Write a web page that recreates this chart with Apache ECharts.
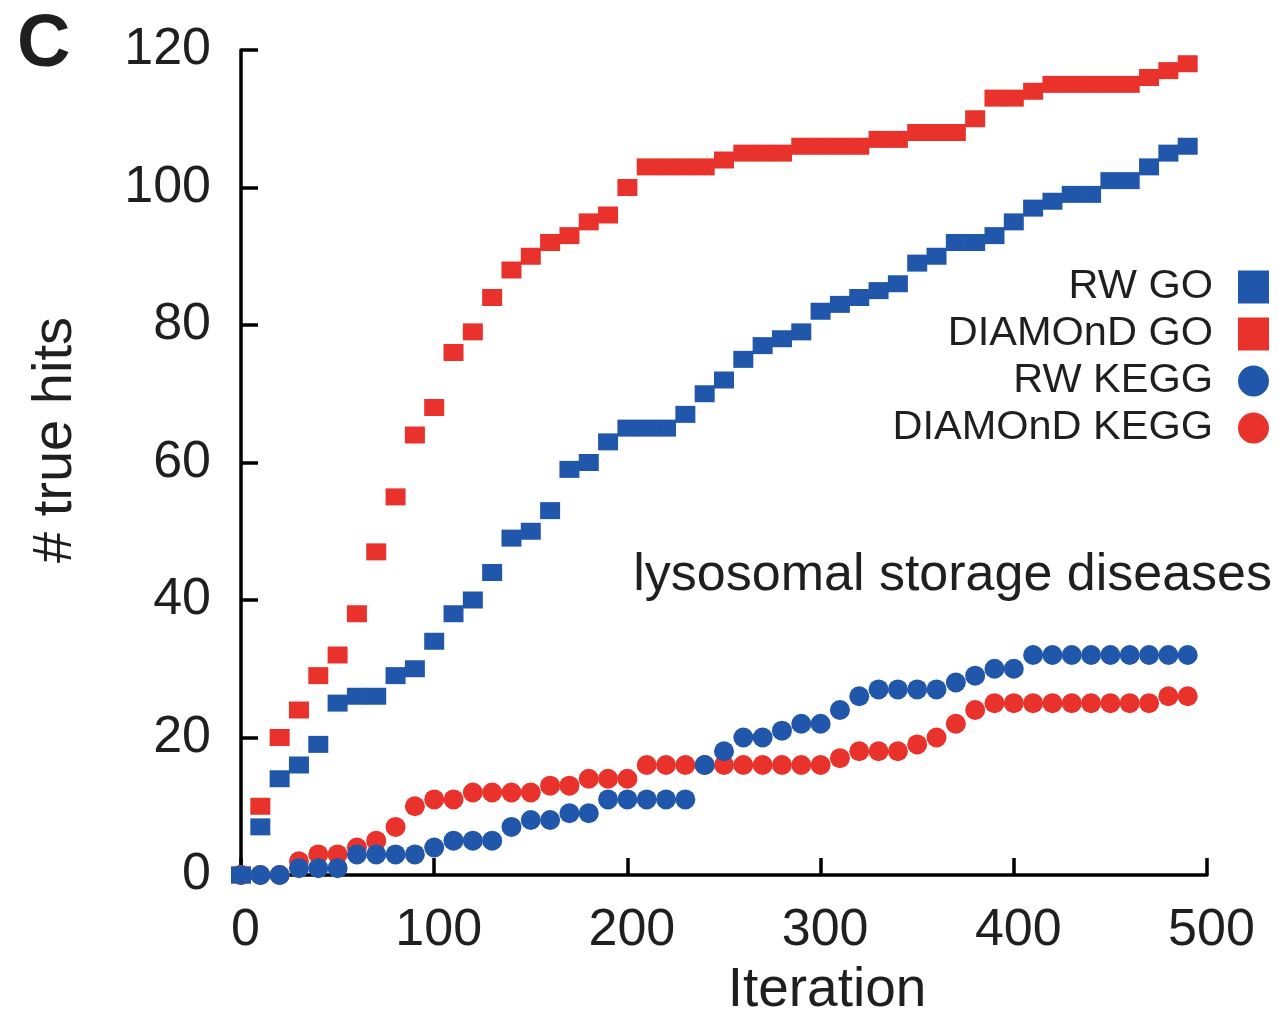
<!DOCTYPE html>
<html>
<head>
<meta charset="utf-8">
<script src="https://cdn.jsdelivr.net/npm/echarts@6/dist/echarts.min.js"></script>
<style>
  html, body { margin: 0; padding: 0; background: #ffffff; }
  #chart { width: 1278px; height: 1011px; }
</style>
</head>
<body>
<div id="chart"></div>
<script>
// Iteration at which each count was recorded
const iterations = [0, 10, 20, 30, 40, 50, 60, 70, 80, 90,
  100, 110, 120, 130, 140, 150, 160, 170, 180, 190,
  200, 210, 220, 230, 240, 250, 260, 270, 280, 290,
  300, 310, 320, 330, 340, 350, 360, 370, 380, 390,
  400, 410, 420, 430, 440, 450, 460, 470, 480, 490];

// Number of true hits per method / annotation source
const rwGO = [0, 7, 14, 16, 19, 25, 26, 26, 29, 30,
  34, 38, 40, 44, 49, 50, 53, 59, 60, 63,
  65, 65, 65, 67, 70, 72, 75, 77, 78, 79,
  82, 83, 84, 85, 86, 89, 90, 92, 92, 93,
  95, 97, 98, 99, 99, 101, 101, 103, 105, 106];

const diamondGO = [0, 10, 20, 24, 29, 32, 38, 47, 55, 64,
  68, 76, 79, 84, 88, 90, 92, 93, 95, 96,
  100, 103, 103, 103, 103, 104, 105, 105, 105, 106,
  106, 106, 106, 107, 107, 108, 108, 108, 110, 113,
  113, 114, 115, 115, 115, 115, 115, 116, 117, 118];

const rwKEGG = [0, 0, 0, 1, 1, 1, 3, 3, 3, 3,
  4, 5, 5, 5, 7, 8, 8, 9, 9, 11,
  11, 11, 11, 11, 16, 18, 20, 20, 21, 22,
  22, 24, 26, 27, 27, 27, 27, 28, 29, 30,
  30, 32, 32, 32, 32, 32, 32, 32, 32, 32];

const diamondKEGG = [0, 0, 0, 2, 3, 3, 4, 5, 7, 10,
  11, 11, 12, 12, 12, 12, 13, 13, 14, 14,
  14, 16, 16, 16, 16, 16, 16, 16, 16, 16,
  16, 17, 18, 18, 18, 19, 20, 22, 24, 25,
  25, 25, 25, 25, 25, 25, 25, 25, 26, 26];

// Axis ranges and tick spacing
const xTicks = [0, 100, 200, 300, 400, 500];
const yTicks = [0, 20, 40, 60, 80, 100, 120];

const BLUE = '#2157ab';
const RED = '#e8322b';
const INK = '#1f1f1f';
const FONT = '"Liberation Sans", Arial, Helvetica, sans-serif';

const pairs = (ys) => iterations.map((x, i) => [x, ys[i]]);

const chart = echarts.init(document.getElementById('chart'), null, { renderer: 'canvas' });

const axisCommon = {
  axisLine: { show: true, onZero: false, lineStyle: { color: '#000', width: 3.5 } },
  axisTick: { show: true, inside: true, length: 17, lineStyle: { color: '#000', width: 3.5 } },
  splitLine: { show: false },
  axisLabel: { color: INK, fontFamily: FONT, fontSize: 52 }
};

chart.setOption({
  animation: false,
  backgroundColor: '#ffffff',
  title: {
    text: 'C',
    left: 12,
    top: 4,
    textStyle: { fontFamily: FONT, fontSize: 74, fontWeight: 'bold', color: INK }
  },
  grid: { left: 241, right: 71, top: 50, bottom: 136, containLabel: false, outerBoundsMode: 'none' },
  xAxis: Object.assign({}, axisCommon, {
    type: 'value',
    min: xTicks[0],
    max: xTicks[xTicks.length - 1],
    interval: xTicks[1] - xTicks[0],
    name: 'Iteration',
    nameLocation: 'middle',
    nameGap: 88,
    nameTextStyle: { color: INK, fontFamily: FONT, fontSize: 55, padding: [0, 0, 0, 206] },
    axisLabel: Object.assign({}, axisCommon.axisLabel, { margin: 30, padding: [0, 0, 0, 9] })
  }),
  yAxis: Object.assign({}, axisCommon, {
    type: 'value',
    min: yTicks[0],
    max: yTicks[yTicks.length - 1],
    interval: yTicks[1] - yTicks[0],
    name: '# true hits',
    nameLocation: 'middle',
    nameGap: 157,
    nameTextStyle: { color: INK, fontFamily: FONT, fontSize: 56, padding: [0, 0, 0, 45] },
    axisLabel: Object.assign({}, axisCommon.axisLabel, { margin: 30 })
  }),
  legend: {
    orient: 'vertical',
    align: 'right',
    right: 4,
    top: 261,
    itemWidth: 31,
    itemHeight: 33,
    itemGap: 5,
    textStyle: { color: INK, fontFamily: FONT, fontSize: 41.5, padding: [0, 20, 0, 0] },
    data: [
      { name: 'RW GO', icon: 'rect' },
      { name: 'DIAMOnD GO', icon: 'rect' },
      { name: 'RW KEGG', icon: 'circle' },
      { name: 'DIAMOnD KEGG', icon: 'circle' }
    ]
  },
  graphic: [{
    type: 'text',
    right: 6,
    top: 550,
    style: {
      text: 'lysosomal storage diseases',
      fill: INK,
      font: '52px ' + FONT
    }
  }],
  series: [
    {
      name: 'DIAMOnD KEGG', type: 'scatter', data: pairs(diamondKEGG),
      symbol: 'circle', symbolSize: 20, itemStyle: { color: RED, opacity: 1 }, clip: false
    },
    {
      name: 'RW KEGG', type: 'scatter', data: pairs(rwKEGG),
      symbol: 'circle', symbolSize: 20, itemStyle: { color: BLUE, opacity: 1 }, clip: false
    },
    {
      name: 'DIAMOnD GO', type: 'scatter', data: pairs(diamondGO),
      symbol: 'rect', symbolSize: [20, 17], itemStyle: { color: RED, opacity: 1 }, clip: false
    },
    {
      name: 'RW GO', type: 'scatter', data: pairs(rwGO),
      symbol: 'rect', symbolSize: [20, 17], itemStyle: { color: BLUE, opacity: 1 }, clip: false
    }
  ]
});
</script>
</body>
</html>
